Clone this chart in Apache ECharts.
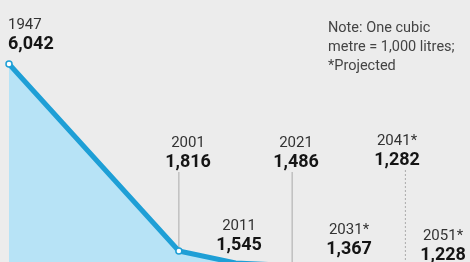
<!DOCTYPE html>
<html>
<head>
<meta charset="utf-8">
<script src="https://cdn.jsdelivr.net/npm/echarts@6/dist/echarts.min.js"></script>
<style>
  html, body { margin: 0; padding: 0; background: #ececec; }
  #chart { width: 470px; height: 262px; }
</style>
</head>
<body>
<div id="chart"></div>
<script>
// per capita water availability, cubic metres
const years = ['1947', '', '', '2001', '2011', '2021', '2031*', '2041*', '2051*'];
const values = [6042, null, null, 1816, 1545, 1486, 1367, 1282, 1228];
const noteLines = ['Note: One cubic', 'metre = 1,000 litres;', '*Projected'];

const font = 'Roboto, sans-serif';
const colors = ['#1e9fd6', '#b7e3f6', '#ececec', '#333', '#151515', '#aaa'];

// where each label sits (centre x, year row) and which get a drop line
const labelPos = {
    '1947': { x: 8, y: 25, align: 'left' },
    '2001': { x: 188, y: 143, drop: 'solid' },
    '2011': { x: 239, y: 226 },
    '2021': { x: 296, y: 143, drop: 'solid' },
    '2031*': { x: 349, y: 230 },
    '2041*': { x: 397, y: 141, drop: 'dotted' },
    '2051*': { x: 443, y: 236 }
};

let myChart = echarts.init(document.getElementById('chart'));

let option = {
    backgroundColor: colors[2],
    animation: false,
    grid: { left: 9, top: 43.7, width: 453, height: 243.4, outerBoundsMode: 'none' },
    xAxis: {
        type: 'category',
        data: years,
        boundaryGap: false,
        show: false
    },
    yAxis: {
        type: 'value',
        min: 1000,
        max: 6500,
        show: false
    },
    series: [{
        type: 'line',
        connectNulls: true,
        data: values.map((v, i) => ({
            value: v,
            symbol: (i === 0 || i === 3) ? 'circle' : 'none'
        })),
        symbolSize: 6,
        itemStyle: { color: '#fff', borderColor: colors[0], borderWidth: 1.5 },
        lineStyle: { color: colors[0], width: 5 },
        areaStyle: { color: colors[1], opacity: 1 },
        z: 2
    }]
};
myChart.setOption(option);

let graphics = [];
years.forEach((yr, i) => {
    if (values[i] == null) return;
    let p = labelPos[yr];
    let px = myChart.convertToPixel({ seriesIndex: 0 }, [i, values[i]]);
    let align = p.align || 'center';
    if (p.drop) {
        graphics.push({
            type: 'line',
            shape: { x1: px[0], y1: p.y + 29, x2: px[0], y2: px[1] },
            style: { stroke: colors[5], lineWidth: 1, lineDash: p.drop === 'dotted' ? [2, 2] : null },
            z: 1
        });
    }
    graphics.push({
        type: 'text',
        x: p.x, y: p.y,
        style: {
            text: yr, fill: colors[3], font: '15px ' + font,
            textAlign: align, textVerticalAlign: 'middle'
        },
        z: 5
    });
    graphics.push({
        type: 'text',
        x: p.x, y: p.y + 19,
        style: {
            text: values[i].toLocaleString('en-US'), fill: colors[4], font: 'bold 18px ' + font,
            textAlign: align, textVerticalAlign: 'middle'
        },
        z: 5
    });
});
noteLines.forEach((t, i) => {
    graphics.push({
        type: 'text',
        x: 328, y: 28 + i * 19,
        style: { text: t, fill: '#444', font: '14.5px ' + font, textVerticalAlign: 'middle' },
        z: 5
    });
});
myChart.setOption({ graphic: graphics });
</script>
</body>
</html>
